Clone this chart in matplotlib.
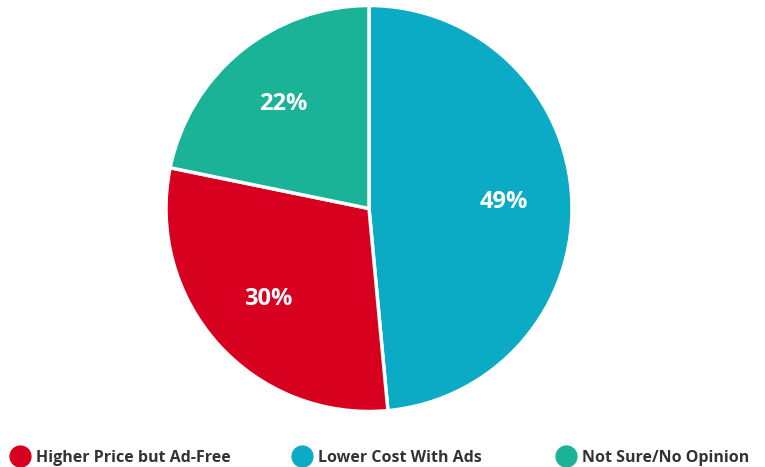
import matplotlib
matplotlib.use("Agg")
import matplotlib.pyplot as plt
from matplotlib.lines import Line2D

categories = ["Lower Cost With Ads", "Higher Price but Ad-Free", "Not Sure/No Opinion"]
values = [49, 30, 22]
colors = ["#0BABC6", "#D7001F", "#1AB397"]
legend_order = ["Higher Price but Ad-Free", "Lower Cost With Ads", "Not Sure/No Opinion"]

plt.rcParams['font.family'] = ['Open Sans', 'DejaVu Sans']

W, H = 765, 467
fig = plt.figure(figsize=(W / 100, H / 100), dpi=100)
cx, cy, r = 369, 208.5, 203
ax = fig.add_axes([(cx - r)/W, (H - cy - r)/H, 2*r/W, 2*r/H])
wedges, texts = ax.pie(values, colors=colors, startangle=90, counterclock=False,
                       labels=[f"{v}%" for v in values], labeldistance=0.665,
                       wedgeprops=dict(edgecolor="white", linewidth=2.5),
                       textprops=dict(color="white", fontsize=17, fontweight="bold",
                                      ha="center", va="center"))
ax.set_xlim(-1.0, 1.0)
ax.set_ylim(-1.0, 1.0)
ax.set_aspect("equal")
ax.axis("off")

cmap = dict(zip(categories, colors))
fs = 11.5
em = fs * 100 / 72
hl = 1.2
marker_x = [20, 302, 566]
for c, mx in zip(legend_order, marker_x):
    h = Line2D([], [], marker="o", linestyle="none", markersize=15,
               markerfacecolor=cmap[c], markeredgecolor=cmap[c])
    leg = fig.legend([h], [c], loc="center left",
                     bbox_to_anchor=((mx - hl * em / 2) / W, (H - 458) / H),
                     frameon=False, handletextpad=0.4, handlelength=hl,
                     borderpad=0, borderaxespad=0,
                     prop=dict(size=fs, weight="bold"), labelcolor="#333333")

fig.savefig("out.png", dpi=100)
